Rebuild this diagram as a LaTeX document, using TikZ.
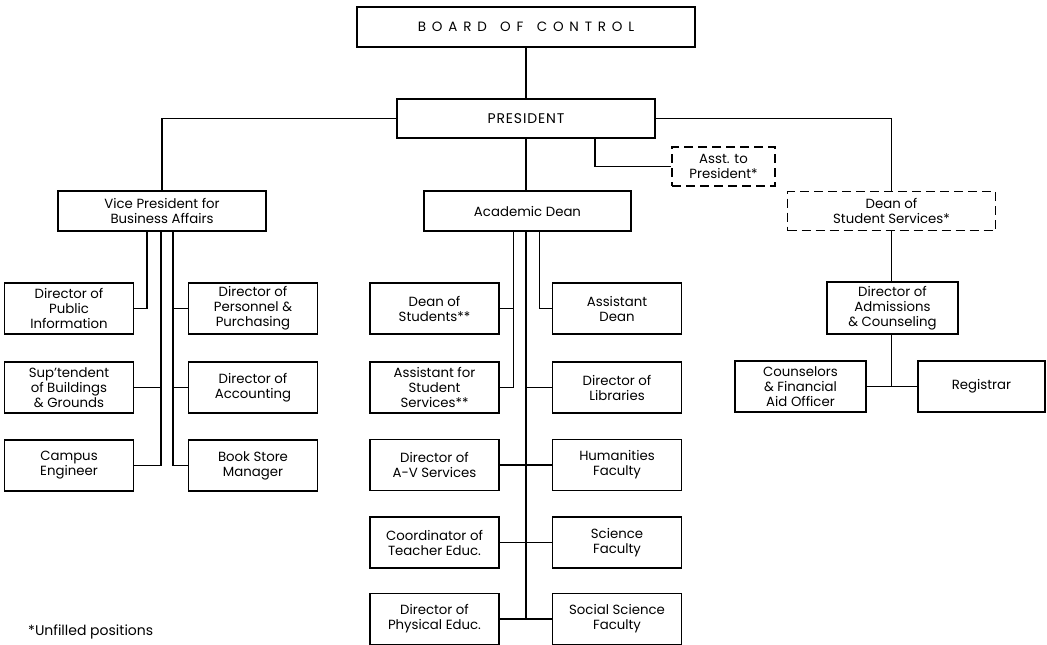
\documentclass[tikz,border=0pt]{standalone}
\usepackage{fontspec}
\setmainfont{Poppins}
\usepackage{tikz}
\usetikzlibrary{positioning}

\begin{document}
\begin{tikzpicture}[x=1pt,y=-1pt]
\tikzstyle{every node}+=[inner sep=0pt]
\tikzstyle{post}=[draw, line width=1.7pt, align=center, font=\fontsize{13.3}{15}\selectfont]
\tikzstyle{vacant}=[post, dash pattern=on 9pt off 5pt]
\tikzstyle{staff}=[post, minimum width=129, minimum height=51]
\tikzstyle{wire}=[line width=1.7pt]
\useasboundingbox (0,0) rectangle (1047,645);
\node [post, minimum width=338, minimum height=40, font=\fontsize{13.5}{15}\selectfont] (board) at (526,27) {\addfontfeatures{LetterSpace=43}BOARD\hspace{4pt} OF\hspace{4pt} CONTROL};
\node [post, minimum width=258, minimum height=39, font=\fontsize{14}{15}\selectfont] (pres) at (526,118.5) {\addfontfeatures{LetterSpace=6}PRESIDENT};
\node [vacant, minimum width=103, minimum height=39] (asst) at (723.5,166.5) {Asst. to\\President*};
\node [post, minimum width=208, minimum height=40] (vp) at (162,211) {Vice President for\\Business Affairs};
\node [post, minimum width=207, minimum height=40] (acad) at (527.5,211) {Academic Dean};
\node [vacant, minimum width=208, minimum height=39] (dss) at (891.5,211) {Dean of\\Student Services*};
\node [staff] (pubinfo) at (69,308.5) {Director of\\Public\\Information};
\node [staff] (suptd) at (69,387.5) {Sup'tendent\\of Buildings\\\& Grounds};
\node [staff] (campus) at (69,465.5) {Campus\\Engineer};
\node [staff] (personnel) at (253,308.5) {Director of\\Personnel \&\\Purchasing};
\node [staff] (accounting) at (253,387.5) {Director of\\Accounting};
\node [staff] (bookstore) at (253,465.5) {Book Store\\Manager};
\node [staff] (deanstud) at (434.5,308.5) {Dean of\\Students**};
\node [staff] (asststud) at (434.5,387.5) {Assistant for\\Student\\Services**};
\node [staff] (avserv) at (434.5,465) {Director of\\A-V Services};
\node [staff] (coord) at (434.5,542.5) {Coordinator of\\Teacher Educ.};
\node [staff] (physed) at (434.5,619) {Director of\\Physical Educ.};
\node [staff] (asstdean) at (617,308.5) {Assistant\\Dean};
\node [staff] (libraries) at (617,387.5) {Director of\\Libraries};
\node [staff] (humanities) at (617,465) {Humanities\\Faculty};
\node [staff] (science) at (617,542.5) {Science\\Faculty};
\node [staff] (socsci) at (617,619) {Social Science\\Faculty};
\node [staff, minimum width=131, minimum height=52] (admissions) at (892.5,308) {Director of\\Admissions\\\& Counseling};
\node [staff, minimum width=131] (counselors) at (800.5,386.5) {Counselors\\\& Financial\\Aid Officer};
\node [staff, minimum width=127] (registrar) at (981.5,386.5) {Registrar};
\node [anchor=west, font=\fontsize{14}{15}\selectfont] (note) at (28,632) {*Unfilled positions};
\draw [wire] (board) -- (pres);
\draw [wire] (pres.south) -- (pres.south |- acad.north);
\draw [wire] (pres.west) -| (vp.north);
\draw [wire] (pres.east) -| (dss.north);
\draw [wire] ([xshift=69]pres.south) |- (asst.west);
\draw [wire] ([xshift=-15]vp.south) |- (pubinfo.east);
\draw [wire] ([xshift=-1]vp.south) |- (suptd.east);
\draw [wire] ([xshift=-1]vp.south) |- (campus.east);
\draw [wire] ([xshift=11]vp.south) |- (personnel.west);
\draw [wire] ([xshift=11]vp.south) |- (accounting.west);
\draw [wire] ([xshift=11]vp.south) |- (bookstore.west);
\draw [wire] ([xshift=-14]acad.south) |- (deanstud.east);
\draw [wire] ([xshift=-14]acad.south) |- (asststud.east);
\draw [wire] ([xshift=12]acad.south) |- (asstdean.west);
\draw [wire] ([xshift=-1.5]acad.south) |- (libraries.west);
\draw [wire] ([xshift=-1.5]acad.south) |- (socsci.west);
\draw [wire] (avserv.east) -- (humanities.west);
\draw [wire] (coord.east) -- (science.west);
\draw [wire] (physed.east) -- (socsci.west);
\draw [wire] (dss.south) -- (dss.south |- admissions.north);
\draw [wire] (dss.south |- admissions.south) |- (counselors.east);
\draw [wire] (dss.south |- admissions.south) |- (registrar.west);
\end{tikzpicture}
\end{document}
